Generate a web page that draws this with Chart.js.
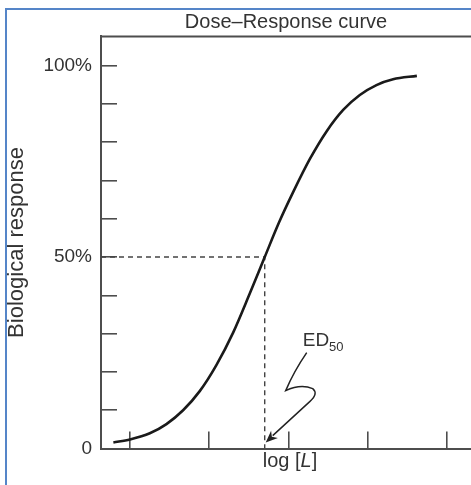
<!DOCTYPE html>
<html><head><meta charset="utf-8">
<script src="https://cdn.jsdelivr.net/npm/chart.js@4.4.0/dist/chart.umd.min.js"></script>
<style>
html,body{margin:0;padding:0;background:#fff;width:471px;height:485px;overflow:hidden;}
#frame{position:absolute;left:5px;top:8px;width:600px;height:600px;border-left:2px solid #5585c8;border-top:2px solid #5585c8;}
#wrap{position:absolute;left:0;top:0;width:471px;height:485px;}
</style></head><body>
<div id="frame"></div>
<div id="wrap"><canvas id="c" width="471" height="485"></canvas></div>
<script>
// ---- text ----
const titleText = 'Dose–Response curve';
const yAxisTitle = 'Biological response';
const xAxisTitleParts = ['log [', 'L', ']'];
const annotationMain = 'ED';
const annotationSub = '50';

// ---- data ----
const logDose  = [0.79, 1.00, 1.25, 1.46, 1.67, 1.88, 2.09, 2.30, 2.51, 2.70, 2.88, 3.06, 3.27, 3.48, 3.69, 3.90, 4.11, 4.32, 4.62];
const response = [1.6, 2.4, 4.0, 6.4, 10.0, 15.0, 21.8, 30.2, 40.4, 50.0, 59.0, 67.0, 75.6, 82.8, 88.4, 92.3, 94.9, 96.4, 97.3];
const xTickValues = [1, 2, 3, 4, 5];
const yTickValues = [0, 10, 20, 30, 40, 50, 60, 70, 80, 90, 100];
const yTickLabels = ['0', '', '', '', '', '50%', '', '', '', '', '100%'];
const ed50 = 2.70;
const halfResponse = 50;

const X_MIN = 0.634, X_MAX = 5.303, Y_MIN = 0, Y_MAX = 107.6;
const FONT = 'Liberation Sans, Arial, Helvetica, sans-serif';
const TEXT = '#333';
const AXIS = '#4d4d4d';

const extras = {
  id: 'extras',
  afterDraw(chart) {
    const {ctx, chartArea, scales: {x, y}} = chart;
    ctx.save();
    // top frame line of plot
    ctx.strokeStyle = AXIS; ctx.lineWidth = 2;
    ctx.beginPath(); ctx.moveTo(chartArea.left - 1, chartArea.top); ctx.lineTo(chartArea.right, chartArea.top); ctx.stroke();

    // x axis title with italic L
    ctx.fillStyle = TEXT; ctx.textBaseline = 'middle';
    const fN = '20px ' + FONT, fI = 'italic 20px ' + FONT;
    ctx.font = fN; const w0 = ctx.measureText(xAxisTitleParts[0]).width;
    ctx.font = fI; const w1 = ctx.measureText(xAxisTitleParts[1]).width;
    ctx.font = fN; const w2 = ctx.measureText(xAxisTitleParts[2]).width;
    let tx = (x.left + x.right) / 2 + 4 - (w0 + w1 + w2) / 2;
    const ty = x.bottom - 13;
    ctx.textAlign = 'left';
    ctx.font = fN; ctx.fillText(xAxisTitleParts[0], tx, ty); tx += w0;
    ctx.font = fI; ctx.fillText(xAxisTitleParts[1], tx, ty); tx += w1;
    ctx.font = fN; ctx.fillText(xAxisTitleParts[2], tx, ty);

    // ED50 annotation with squiggly arrow
    const ex = x.getPixelForValue(ed50), ey = y.getPixelForValue(0);
    ctx.textBaseline = 'alphabetic';
    ctx.font = '19px ' + FONT;
    ctx.fillText(annotationMain, ex + 38, ey - 103);
    const we = ctx.measureText(annotationMain).width;
    ctx.font = '13px ' + FONT;
    ctx.fillText(annotationSub, ex + 38 + we, ey - 98);

    ctx.strokeStyle = '#222'; ctx.lineWidth = 1.5;
    ctx.beginPath();
    ctx.moveTo(ex + 42, ey - 96);
    ctx.quadraticCurveTo(ex + 29, ey - 77, ex + 21, ey - 58);
    ctx.quadraticCurveTo(ex + 36, ey - 65, ex + 48, ey - 60);
    ctx.quadraticCurveTo(ex + 54, ey - 55, ex + 45, ey - 47);
    ctx.lineTo(ex + 8, ey - 13);
    ctx.stroke();
    // arrow head
    const tipX = ex + 1, tipY = ey - 6;
    let dx = tipX - (ex + 45), dy = tipY - (ey - 47);
    const len = Math.hypot(dx, dy); dx /= len; dy /= len;
    const hl = 12, hw = 5;
    const bx = tipX - dx * hl, by = tipY - dy * hl;
    ctx.fillStyle = '#222';
    ctx.beginPath();
    ctx.moveTo(tipX, tipY);
    ctx.lineTo(bx - dy * hw, by + dx * hw);
    ctx.lineTo(tipX - dx * hl * 0.7, tipY - dy * hl * 0.7);
    ctx.lineTo(bx + dy * hw, by - dx * hw);
    ctx.closePath(); ctx.fill();
    ctx.restore();
  }
};

new Chart(document.getElementById('c'), {
  type: 'line',
  data: {
    datasets: [
      {
        data: logDose.map((v, i) => ({x: v, y: response[i]})),
        borderColor: '#1a1a1a', borderWidth: 2.6, pointRadius: 0,
        cubicInterpolationMode: 'monotone', fill: false
      },
      {
        data: [{x: X_MIN, y: halfResponse}, {x: ed50, y: halfResponse}, {x: ed50, y: 0}],
        borderColor: '#444', borderWidth: 1.4, borderDash: [5, 4], pointRadius: 0, tension: 0, fill: false
      }
    ]
  },
  options: {
    responsive: false, animation: false, devicePixelRatio: 1,
    layout: {padding: 0},
    plugins: {
      legend: {display: false}, tooltip: {enabled: false},
      title: {
        display: true, text: titleText, fullSize: false, color: TEXT,
        font: {family: FONT, size: 20, weight: 'normal'},
        padding: {top: 9, bottom: 2}
      }
    },
    scales: {
      x: {
        type: 'linear', position: 'bottom', min: X_MIN, max: X_MAX,
        afterBuildTicks: s => { s.ticks = xTickValues.map(v => ({value: v})); },
        ticks: {callback: () => '', autoSkip: false, maxRotation: 0},
        grid: {drawOnChartArea: false, drawTicks: true, tickLength: -17, color: AXIS, lineWidth: 1.6},
        border: {display: true, color: AXIS, width: 2},
        afterFit: s => { s.height = 26; }
      },
      y: {
        type: 'linear', position: 'left', min: Y_MIN, max: Y_MAX,
        afterBuildTicks: s => { s.ticks = yTickValues.map(v => ({value: v})); },
        ticks: {
          callback: (v, i) => yTickLabels[i], autoSkip: false, padding: 25,
          color: TEXT, font: {family: FONT, size: 19}
        },
        grid: {drawOnChartArea: false, drawTicks: true, tickLength: -16, color: AXIS, lineWidth: 1.6},
        border: {display: true, color: AXIS, width: 2},
        title: {display: true, text: yAxisTitle, color: TEXT, font: {family: FONT, size: 22}, padding: {top: 4, bottom: 0}},
        afterFit: s => { s.width = 101; }
      }
    }
  },
  plugins: [extras]
});
</script>
</body></html>
